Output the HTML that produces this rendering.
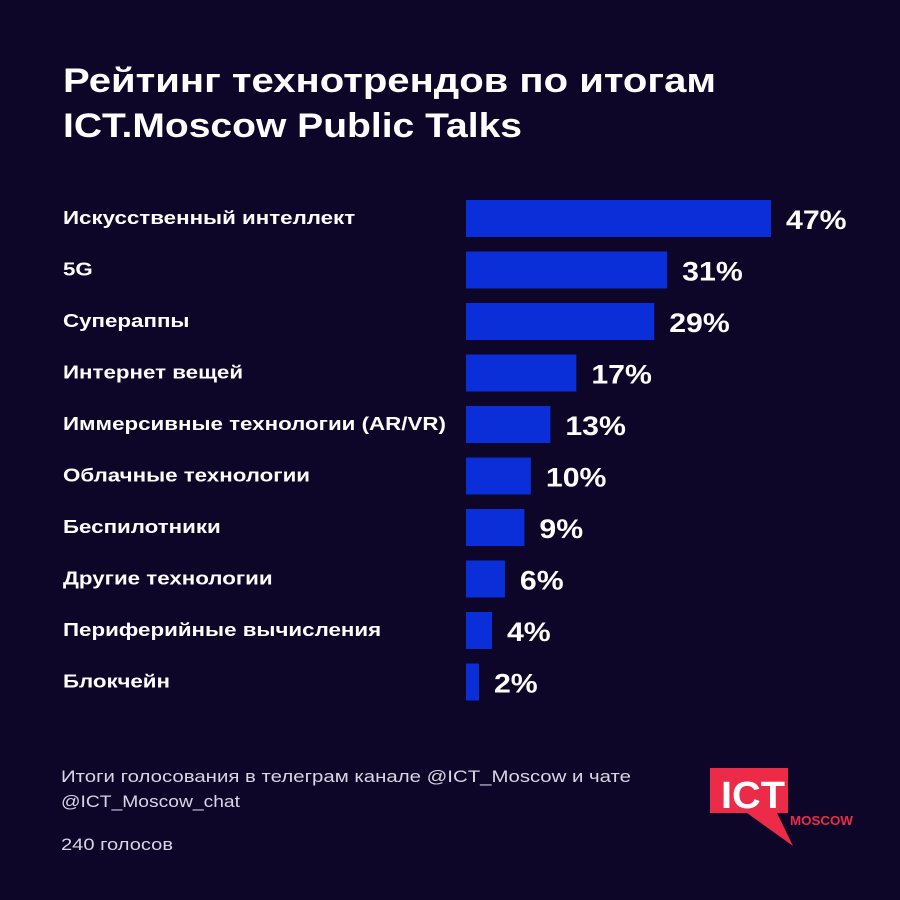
<!DOCTYPE html>
<html><head><meta charset="utf-8"><style>
html,body{margin:0;padding:0;background:#0e0629;}
svg{display:block;font-family:"Liberation Sans","DejaVu Sans",sans-serif;}
</style></head><body>
<svg id="chart" width="900" height="900" viewBox="0 0 900 900">
<rect width="900" height="900" fill="#0e0629"/>
<text x="63" y="92" font-size="34" font-weight="bold" fill="#fff" textLength="653" lengthAdjust="spacingAndGlyphs">Рейтинг технотрендов по итогам</text>
<text x="63" y="137" font-size="34" font-weight="bold" fill="#fff" textLength="459" lengthAdjust="spacingAndGlyphs">ICT.Moscow Public Talks</text>
<g id="bars"></g>
<text x="61" y="782" font-size="16.5" fill="#d8d6e4" textLength="570" lengthAdjust="spacingAndGlyphs">Итоги голосования в телеграм канале @ICT_Moscow и чате</text>
<text x="61" y="807" font-size="16.5" fill="#d8d6e4" textLength="179" lengthAdjust="spacingAndGlyphs">@ICT_Moscow_chat</text>
<text x="61" y="850" font-size="16.5" fill="#d8d6e4" textLength="112" lengthAdjust="spacingAndGlyphs">240 голосов</text>
<g>
<path d="M710 768 H788 V813 H777 L793 846 L747 813 H710 Z" fill="#ec2b48"/>
<text x="721" y="808" font-size="38" font-weight="bold" fill="#fff" textLength="64" lengthAdjust="spacingAndGlyphs">ICT</text>
<text x="790" y="825" font-size="12.5" font-weight="bold" fill="#ec2b48" textLength="63" lengthAdjust="spacingAndGlyphs">MOSCOW</text>
</g>
</svg>
<script>
const categories=["Искусственный интеллект","5G","Супераппы","Интернет вещей","Иммерсивные технологии (AR/VR)","Облачные технологии","Беспилотники","Другие технологии","Периферийные вычисления","Блокчейн"];
const values=[47,31,29,17,13,10,9,6,4,2];
const valueLabels=["47%","31%","29%","17%","13%","10%","9%","6%","4%","2%"];
const NS="http://www.w3.org/2000/svg";
const x0=466,pxPer=6.49;
function xScale(v){return v*pxPer;}
function yScale(i){return 200+i*51.5;}
function stretch(el,k){const l=el.getComputedTextLength();el.setAttribute('textLength',l*k);el.setAttribute('lengthAdjust','spacingAndGlyphs');}
const g=document.getElementById('bars');
categories.forEach((c,i)=>{
  const y=yScale(i);
  const lab=document.createElementNS(NS,'text');
  
  
  lab.setAttribute('x',63);lab.setAttribute('y',y+24);
  lab.setAttribute('font-size','18');lab.setAttribute('font-weight','bold');lab.setAttribute('fill','#fff');
  lab.textContent=c;g.appendChild(lab);stretch(lab,1.24);
  const r=document.createElementNS(NS,'rect');
  
  
  r.setAttribute('x',x0);r.setAttribute('y',y);r.setAttribute('width',xScale(values[i]));r.setAttribute('height',37);
  r.setAttribute('fill','#0a2ed8');g.appendChild(r);
  const t=document.createElementNS(NS,'text');
  
  
  t.setAttribute('x',x0+xScale(values[i])+15);t.setAttribute('y',y+29);
  t.setAttribute('font-size','27');t.setAttribute('font-weight','bold');t.setAttribute('fill','#fff');
  t.textContent=valueLabels[i];g.appendChild(t);stretch(t,1.12);
});
</script>
</body></html>
